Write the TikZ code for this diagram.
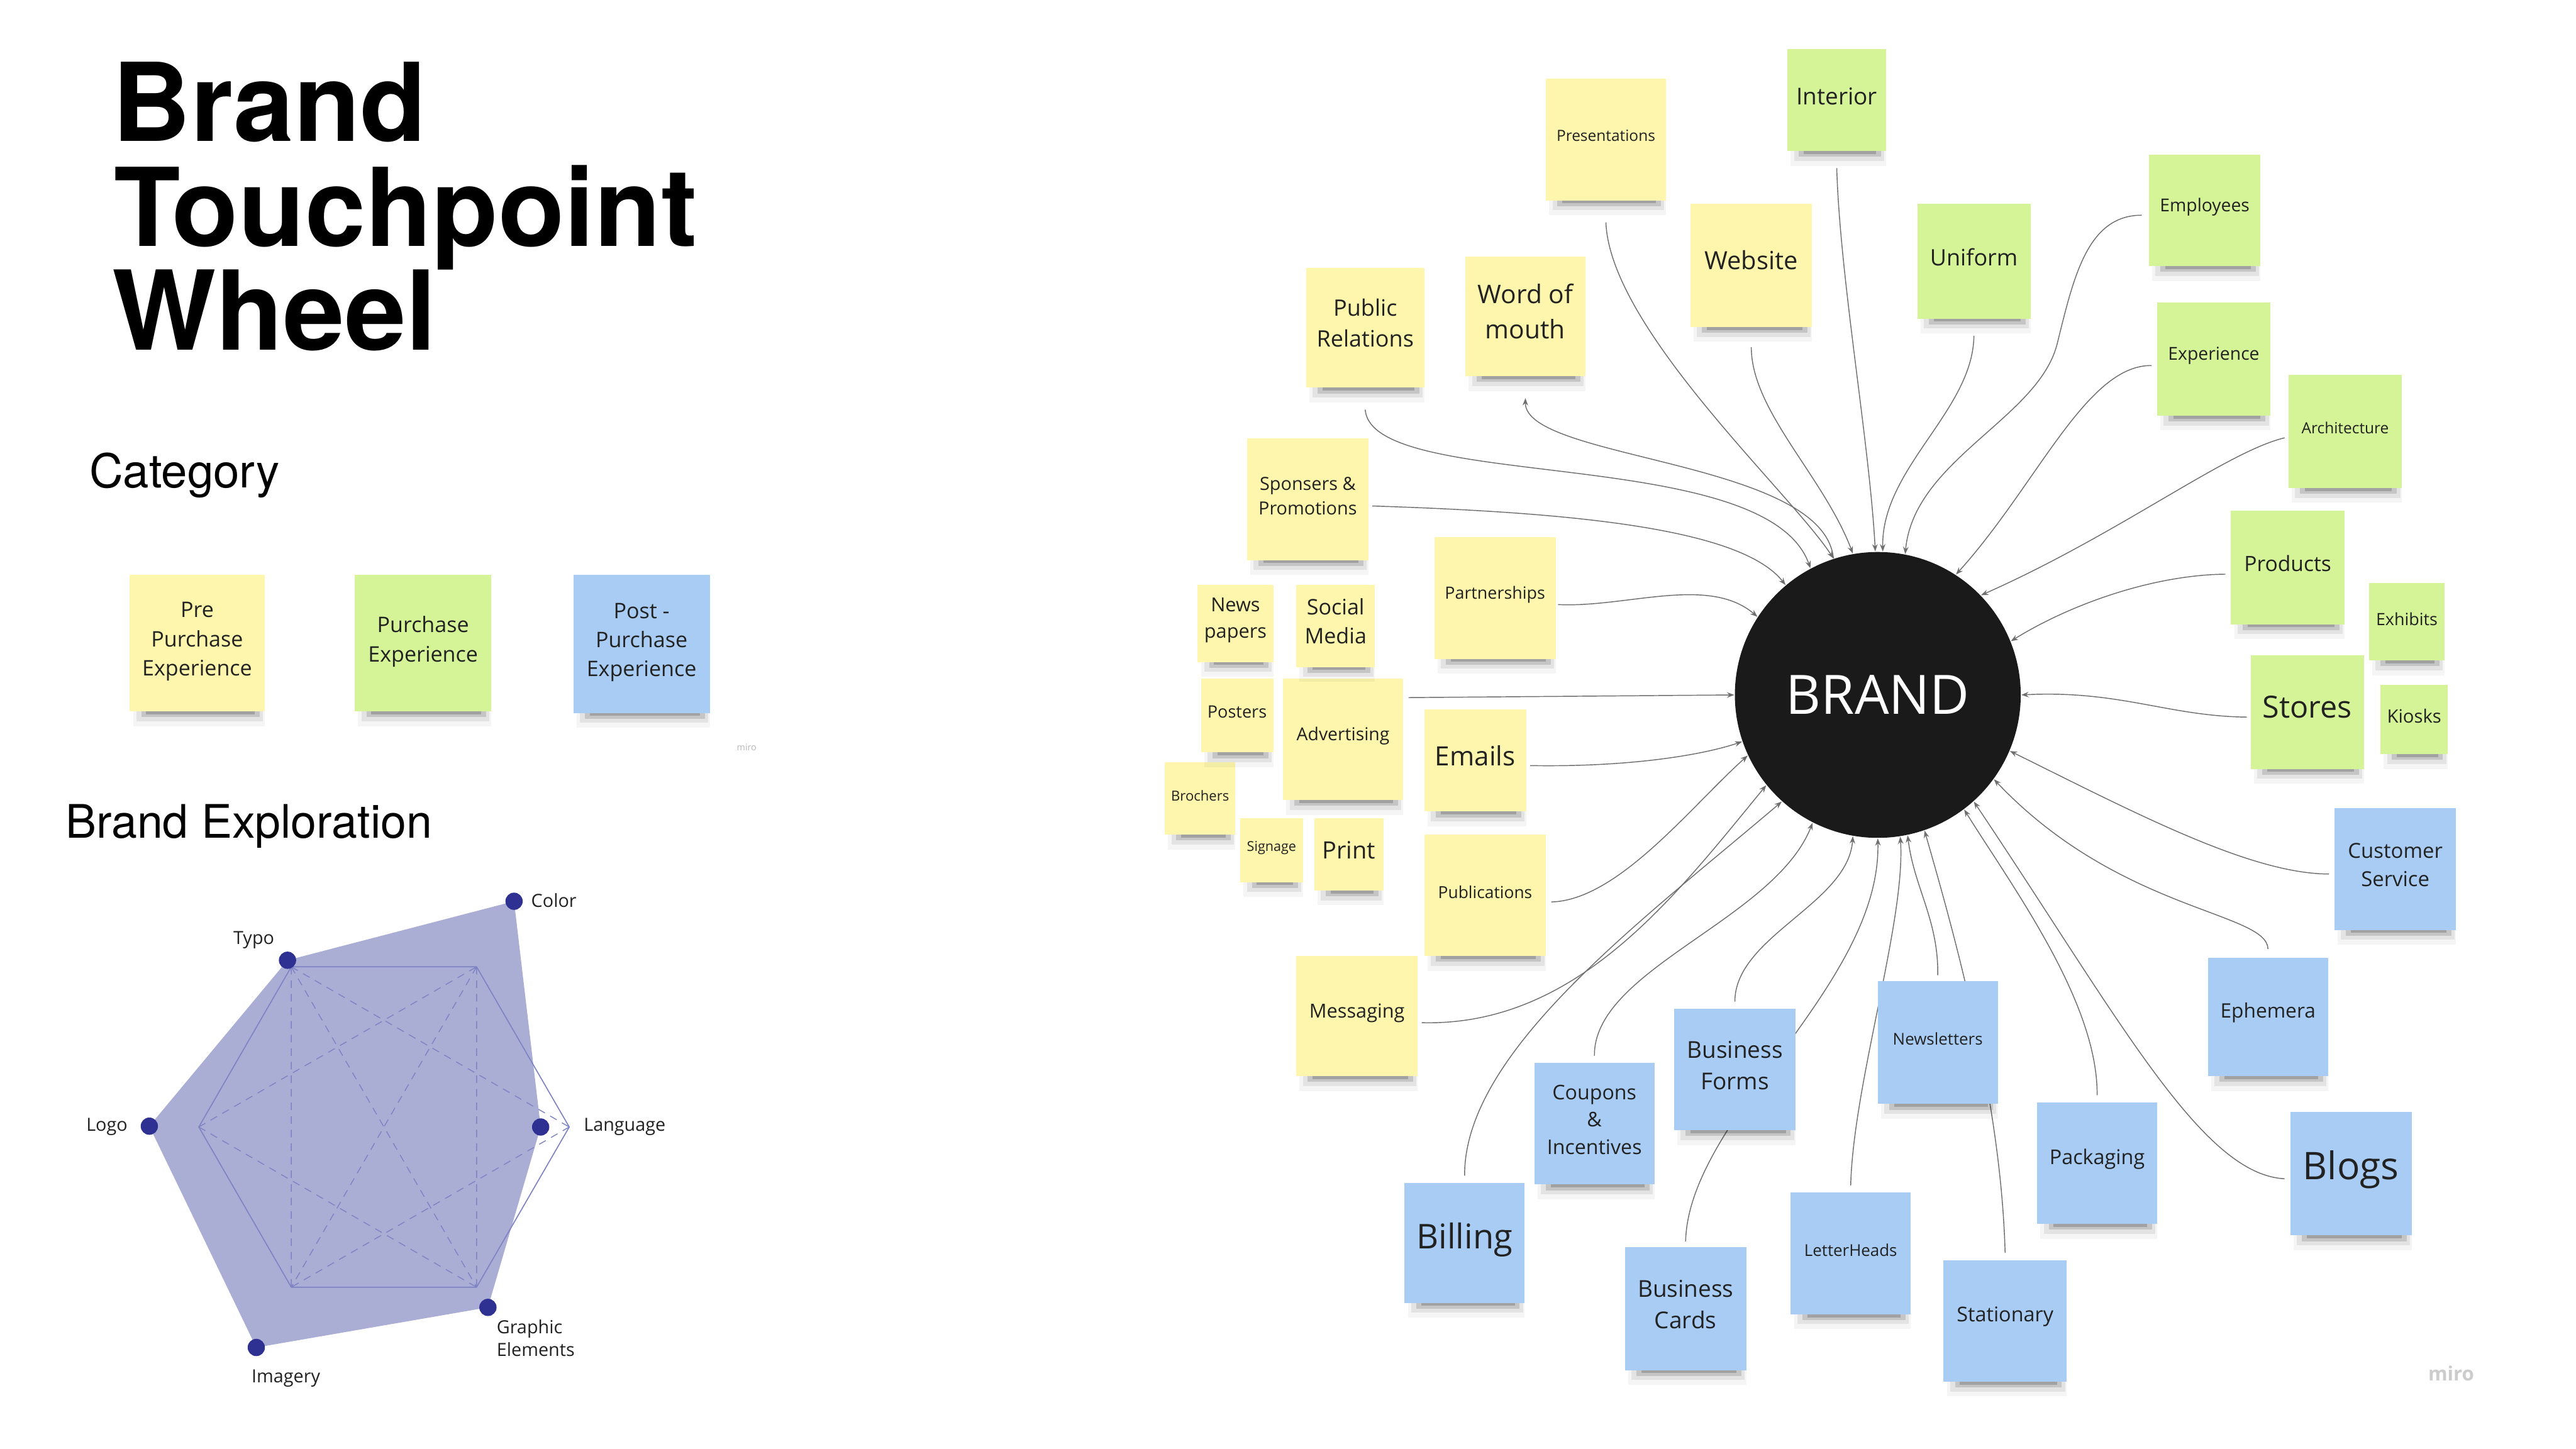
\documentclass[tikz,border=0pt]{standalone}
\usepackage{fontspec}
\setmainfont{Open Sans}
\newfontfamily\titlefont{TeX Gyre Heros}
\usetikzlibrary{arrows.meta,calc}
\definecolor{nyellow}{HTML}{FDF6AC}
\definecolor{ngreen}{HTML}{D4F497}
\definecolor{nblue}{HTML}{A8CCF3}
\definecolor{notetext}{HTML}{222222}
\definecolor{brandblack}{HTML}{1A1A1A}
\definecolor{connector}{HTML}{6E6E6E}
\definecolor{radarfill}{HTML}{AAADD4}
\definecolor{radarline}{HTML}{7E83C3}
\definecolor{radardot}{HTML}{2E3192}
\newlength\pxu
\setlength\pxu{0.019133cm}
\pgfdeclarelayer{paper}
\pgfdeclarelayer{lines}
\pgfsetlayers{paper,lines,main}
\tikzset{
  note/.style={rectangle, inner sep=0pt, draw=none},
  notetxt/.style={inner sep=0pt, align=center, text=notetext},
  conn/.style={draw=connector, line width=0.3pt},
  toB/.style={-{Stealth[length=2.4pt,width=1.8pt]}},
  fromB/.style={{Stealth[length=2.4pt,width=1.8pt]}-},
  dot/.style={circle, fill=radardot, inner sep=0pt, minimum size={10.5*\pxu}},
  lbl/.style={inner sep=0pt, text=notetext, font=\fontsize{6}{7.6}\selectfont},
  hexline/.style={draw=radarline, line width=0.35pt},
  hexdash/.style={draw=radarline, line width=0.3pt, dash pattern=on 2.5pt off 2pt}
}
% name, x1, y1, x2, y2, colour, font size, text, vertical text shift
\newcommand{\sticky}[9]{%
  \fill[black,opacity=0.04] ({#2+2},{#5-1}) rectangle ({#4},{#5+9});
  \fill[black,opacity=0.07] ({#2+4},{#5-1}) rectangle ({#4-1},{#5+6});
  \fill[black,opacity=0.13] ({#2+7},{#5-1}) rectangle ({#4-3},{#5+3.5});
  \fill[black,opacity=0.18] ({#2+10},{#5-1}) rectangle ({#4-6},{#5+1.8});
  \node[note, fill=#6, minimum width={(#4-#2)*\pxu}, minimum height={(#5-#3)*\pxu}] (#1) at ({(#2+#4)/2},{(#3+#5)/2}) {};
  \node[notetxt, font={\fontsize{#7}{\fpeval{#7*1.36}}\selectfont}] (#1-text) at ($(#1.center)+(0,#9)$) {#8};%
}
\begin{document}
\begin{tikzpicture}[x=\pxu, y=-\pxu]
\begin{pgfonlayer}{paper}
\fill[white] (0,0) rectangle (1568,882);
\end{pgfonlayer}
\useasboundingbox (0,0) rectangle (1568,882);

% ---------- title and headings ----------
\node[anchor=base west, inner sep=0pt, font=\titlefont\bfseries\fontsize{36}{36}\selectfont] (t1) at (68,86) {Brand};
\node[anchor=base west, inner sep=0pt, font=\titlefont\bfseries\fontsize{36}{36}\selectfont] (t2) at (69,150) {Touchpoint};
\node[anchor=base west, inner sep=0pt, font=\titlefont\bfseries\fontsize{36.5}{36}\selectfont] (t3) at (68,213) {Wheel};
\node[anchor=base west, inner sep=0pt, font=\titlefont\fontsize{15.5}{18}\selectfont] (cat) at (54,297) {Category};
\node[anchor=base west, inner sep=0pt, font=\titlefont\fontsize{15.3}{18}\selectfont] (expl) at (39.5,510) {Brand Exploration};

% ---------- category notes ----------
\sticky{pre}{79}{350}{161}{433}{nyellow}{7.1}{Pre\\Purchase\\Experience}{-1}
\sticky{pur}{216}{350}{299}{433}{ngreen}{7.1}{Purchase\\Experience}{-1}
\sticky{postp}{349}{350}{432}{434}{nblue}{7.1}{Post -\\Purchase\\Experience}{-1}
\node[font=\fontsize{3}{4}\selectfont, text=gray!55, inner sep=0pt] (miroa) at (454.5,455) {miro};

% ---------- radar chart ----------
\coordinate (hL) at (121,686);
\coordinate (hTL) at (177.3,588.5);
\coordinate (hTR) at (290.1,588.5);
\coordinate (hR) at (346.5,686);
\coordinate (hBR) at (290.1,783.5);
\coordinate (hBL) at (177.3,783.5);
\node[dot] (dTypo) at (175,584.5) {};
\node[dot] (dColor) at (312.9,548.6) {};
\node[dot] (dLang) at (329.1,686) {};
\node[dot] (dGraph) at (297,795.8) {};
\node[dot] (dImag) at (156,820.2) {};
\node[dot] (dLogo) at (90.9,685.5) {};
\begin{pgfonlayer}{lines}
\fill[radarfill] (dTypo.center) -- (dColor.center) -- (dLang.center) -- (dGraph.center) -- (dImag.center) -- (dLogo.center) -- cycle;
\draw[hexline] (hL) -- (hTL) -- (hTR) -- (hR) -- (hBR) -- (hBL) -- cycle;
\draw[hexdash] (hL) -- (hTR) (hL) -- (hBR) (hTL) -- (hR) (hR) -- (hBL)
  (hTL) -- (hBL) (hTR) -- (hBR) (hTL) -- (hBR) (hTR) -- (hBL);
\end{pgfonlayer}
\node[lbl, anchor=west] (lColor) at (323,548) {Color};
\node[lbl] (lTypo) at (154.5,572) {Typo};
\node[lbl, anchor=east] (lLogo) at (78,686) {Logo};
\node[lbl, anchor=west] (lLang) at (355,686) {Language};
\node[lbl, anchor=north west, align=left] (lGraph) at (302,803) {Graphic\\Elements};
\node[lbl] (lImag) at (174,839) {Imagery};

% ---------- brand ----------
\node[circle, fill=brandblack, minimum size={174*\pxu}, inner sep=0pt, text=white,
      font=\fontsize{18}{22}\selectfont] (brand) at (1143,423) {BRAND};

% ---------- sticky notes ----------
\sticky{pres}{941}{48}{1014}{122}{nyellow}{5.1}{Presentations}{-2.5}
\sticky{inter}{1088}{30}{1148}{92}{ngreen}{7.7}{Interior}{-2.5}
\sticky{web}{1029}{124}{1103}{199}{nyellow}{8.3}{Website}{-3}
\sticky{unif}{1167}{124}{1236}{194}{ngreen}{7.5}{Uniform}{-2.5}
\sticky{empl}{1308}{94}{1376}{162}{ngreen}{5.9}{Employees}{-2}
\sticky{expe}{1313}{184}{1382}{253}{ngreen}{5.9}{Experience}{-2}
\sticky{arch}{1393}{228}{1462}{297}{ngreen}{5.1}{Architecture}{-2}
\sticky{prod}{1358}{311}{1427}{380}{ngreen}{7.0}{Products}{-2.5}
\sticky{exhi}{1442}{355}{1488}{402}{ngreen}{5.6}{Exhibits}{-1.5}
\sticky{stor}{1370}{399}{1439}{468}{ngreen}{10.1}{Stores}{-3}
\sticky{kios}{1449}{417}{1490}{459}{ngreen}{6.1}{Kiosks}{-2}
\sticky{cust}{1421}{492}{1495}{566}{nblue}{6.85}{Customer\\Service}{-2.5}
\sticky{ephe}{1344}{583}{1417}{655}{nblue}{6.6}{Ephemera}{-2.5}
\sticky{blog}{1394}{677}{1468}{752}{nblue}{12.6}{Blogs}{-2.5}
\sticky{pack}{1240}{671}{1313}{745}{nblue}{6.75}{Packaging}{-2.5}
\sticky{stat}{1183}{767}{1258}{841}{nblue}{6.75}{Stationary}{-2.5}
\sticky{news}{1143}{597}{1216}{672}{nblue}{5.4}{Newsletters}{-2}
\sticky{lett}{1090}{726}{1163}{800}{nblue}{5.4}{LetterHeads}{-2}
\sticky{bcard}{989}{759}{1063}{834}{nblue}{7.7}{Business\\Cards}{-2.5}
\sticky{bform}{1019}{614}{1093}{688}{nblue}{7.7}{Business\\Forms}{-2.5}
\sticky{coup}{934}{647}{1007}{721}{nblue}{6.7}{Coupons\\\&\\Incentives}{-2.5}
\sticky{bill}{855}{720}{928}{793}{nblue}{11.3}{Billing}{-2}
\sticky{mess}{789}{582}{863}{655}{nyellow}{6.4}{Messaging}{-2}
\sticky{publ}{867}{508}{941}{582}{nyellow}{5.5}{Publications}{-2}
\sticky{emai}{867}{432}{929}{494}{nyellow}{8.8}{Emails}{-3}
\sticky{prin}{800}{498}{842}{542}{nyellow}{7.9}{Print}{-2.5}
\sticky{sign}{755}{498}{793}{537}{nyellow}{4.5}{Signage}{-1.5}
\sticky{broc}{709}{464}{752}{508}{nyellow}{4.6}{Brochers}{-1.5}
\sticky{post}{731}{413}{775}{458}{nyellow}{5.65}{Posters}{-2}
\sticky{adve}{781}{413}{854}{487}{nyellow}{5.9}{Advertising}{-2}
\sticky{npap}{729}{356}{775}{403}{nyellow}{6.4}{News\\papers}{-2}
\sticky{soci}{789}{356}{837}{406}{nyellow}{7.1}{Social\\Media}{-3}
\sticky{part}{873}{327}{947}{401}{nyellow}{5.6}{Partnerships}{-2}
\sticky{spon}{759}{267}{833}{341}{nyellow}{6.0}{Sponsers \&\\Promotions}{-2}
\sticky{prel}{795}{163}{867}{236}{nyellow}{7.5}{Public\\Relations}{-3}
\sticky{word}{892}{156}{965}{229}{nyellow}{8.5}{Word of\\mouth}{-3}

\node[font=\bfseries\fontsize{6.5}{8}\selectfont, text=gray!40, inner sep=0pt] (mirob) at (1492,836) {miro};

% ---------- connectors ----------
\begin{pgfonlayer}{lines}
\draw[conn,toB] ($(pres.south)+(0,13)$) .. controls (980,200) and (1090,300) .. (brand.108);
\draw[conn,toB] ($(web.south)+(0,12)$) .. controls (1066,250) and (1110,290) .. (brand.100);
\draw[conn,toB] ($(inter.south)+(0,10)$) .. controls (1120,170) and (1138,270) .. (brand.91);
\draw[conn,toB] ($(prel.south)+(0,13)$) .. controls (835,300) and (1075,270) .. (brand.118);
\draw[conn,fromB] ($(word.south)+(0,13)$) .. controls (928,280) and (1110,280) .. (brand.108);
\draw[conn,toB] ($(spon.east)+(2,4)$) .. controls (960,312) and (1060,322) .. (brand.130);
\draw[conn,toB] ($(part.east)+(1,4)$) .. controls (990,370) and (1040,350) .. (brand.147);
\draw[conn,toB] ($(adve.north east)+(3,12)$) -- (brand.180);
\draw[conn,toB] ($(emai.east)+(2,3)$) .. controls (990,467) and (1035,460) .. (brand.-161);
\draw[conn,toB] ($(publ.east)+(3,4)$) .. controls (985,548) and (1030,490) .. (brand.-155);
\draw[conn,toB] ($(mess.east)+(2,4)$) .. controls (960,625) and (1020,545) .. (brand.-141);
\draw[conn,toB] ($(bill.north)+(0,-4)$) .. controls (891,640) and (1000,560) .. (brand.-132);
\draw[conn,toB] ($(coup.north)+(0,-4)$) .. controls (970,590) and (1080,560) .. (brand.-117);
\draw[conn,toB] ($(bform.north)+(0,-4)$) .. controls (1056,570) and (1125,550) .. (brand.-100);
\draw[conn,toB] ($(bcard.north)+(0,-3)$) .. controls (1028,680) and (1145,600) .. (brand.-90);
\draw[conn,toB] ($(lett.north)+(0,-4)$) .. controls (1128,660) and (1160,560) .. (brand.-81);
\draw[conn,toB] ($(news.north)+(0,-3)$) .. controls (1180,560) and (1165,540) .. (brand.-78);
\draw[conn,toB] ($(stat.north)+(0,-4)$) .. controls (1218,670) and (1190,570) .. (brand.-71);
\draw[conn,toB] ($(pack.north)+(0,-4)$) .. controls (1277,610) and (1225,540) .. (brand.-53);
\draw[conn,toB] ($(blog.west)+(-3,3)$) .. controls (1340,715) and (1290,620) .. (brand.-48);
\draw[conn,toB] ($(ephe.north)+(0,-5)$) .. controls (1380,555) and (1290,555) .. (brand.-36);
\draw[conn,toB] ($(cust.west)+(-3,3)$) .. controls (1370,532) and (1300,495) .. (brand.-23);
\draw[conn,toB] ($(stor.west)+(-2,3)$) .. controls (1320,436) and (1290,420) .. (brand.0);
\draw[conn,toB] ($(prod.west)+(-3,4)$) .. controls (1310,350) and (1260,368) .. (brand.22);
\draw[conn,toB] ($(arch.west)+(-2,4)$) .. controls (1355,275) and (1290,325) .. (brand.44);
\draw[conn,toB] ($(expe.west)+(-3,4)$) .. controls (1270,222) and (1240,295) .. (brand.57);
\draw[conn,toB] ($(empl.west)+(-4,3)$) .. controls (1270,131) and (1262,170) .. (1252,210)
   .. controls (1240,255) and (1165,280) .. (brand.79);
\draw[conn,toB] ($(unif.south)+(0,10)$) .. controls (1201,250) and (1145,285) .. (brand.88);
\end{pgfonlayer}
\end{tikzpicture}
\end{document}
